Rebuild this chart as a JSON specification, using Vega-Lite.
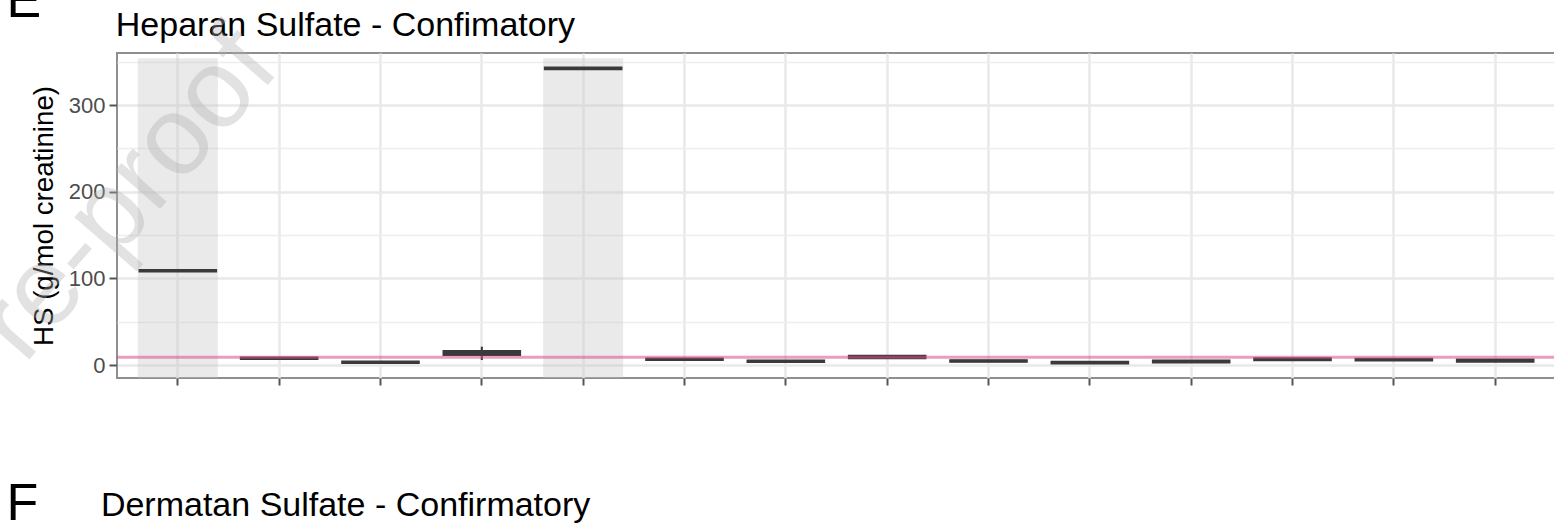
{
  "$schema": "https://vega.github.io/schema/vega-lite/v6.json",
  "width": 1439,
  "height": 325,
  "autosize": {"type": "none"},
  "padding": {"left": 117, "top": 53, "right": 0, "bottom": 148},
  "background": "white",
  "config": {
    "font": "Liberation Sans",
    "view": {"stroke": "#8f8f8f", "strokeWidth": 2},
    "axis": {"labelFont": "Liberation Sans", "titleFont": "Liberation Sans", "titleFontWeight": "normal", "titleColor": "black"}
  },
  "datasets": {
    "boxes": [
      {"cat": "1", "lower": 108.2, "q1": 108.2, "median": 108.8, "q3": 109.4, "upper": 109.4},
      {"cat": "2", "lower": 7.2, "q1": 7.2, "median": 7.7, "q3": 8.2, "upper": 8.2},
      {"cat": "3", "lower": 2.6, "q1": 2.6, "median": 3.1, "q3": 3.6, "upper": 3.6},
      {"cat": "4", "lower": 5.8, "q1": 11.8, "median": 13.5, "q3": 15.9, "upper": 21.1},
      {"cat": "5", "lower": 341.7, "q1": 341.7, "median": 342.3, "q3": 342.9, "upper": 342.9},
      {"cat": "6", "lower": 6.0, "q1": 6.0, "median": 6.6, "q3": 7.2, "upper": 7.2},
      {"cat": "7", "lower": 3.7, "q1": 3.7, "median": 4.3, "q3": 4.9, "upper": 4.9},
      {"cat": "8", "lower": 8.2, "q1": 8.2, "median": 9.2, "q3": 10.2, "upper": 10.2},
      {"cat": "9", "lower": 4.0, "q1": 4.0, "median": 4.6, "q3": 5.2, "upper": 5.2},
      {"cat": "10", "lower": 2.1, "q1": 2.1, "median": 2.7, "q3": 3.3, "upper": 3.3},
      {"cat": "11", "lower": 3.3, "q1": 3.3, "median": 4.0, "q3": 4.8, "upper": 4.8},
      {"cat": "12", "lower": 5.9, "q1": 5.9, "median": 6.6, "q3": 7.3, "upper": 7.3},
      {"cat": "13", "lower": 5.4, "q1": 5.4, "median": 6.1, "q3": 6.8, "upper": 6.8},
      {"cat": "14", "lower": 4.0, "q1": 4.0, "median": 5.0, "q3": 6.0, "upper": 6.0}
    ],
    "shade": [
      {"cat": "1", "lo": -15, "hi": 354},
      {"cat": "5", "lo": -15, "hi": 354}
    ],
    "reference": [{"threshold": 9}],
    "watermark": [{"label": "Journal Pre-proof"}]
  },
  "layer": [
    {
      "data": {"name": "shade"},
      "mark": {"type": "bar", "width": {"band": 0.79}, "fill": "#c4c4c4", "opacity": 0.36},
      "encoding": {
        "x": {
          "field": "cat", "type": "nominal",
          "scale": {"type": "band", "domain": ["1","2","3","4","5","6","7","8","9","10","11","12","13","14"], "paddingInner": 0, "paddingOuter": 0.1},
          "axis": {
            "orient": "bottom", "labels": false, "ticks": true, "tickSize": 7, "tickWidth": 2, "tickColor": "#555555",
            "domain": false, "grid": true, "gridColor": "#e9e9e9", "gridWidth": 2.5,
            "title": "Dermatan Sulfate - Confirmatory", "titleFontSize": 34, "titleX": -16.6, "titleY": 137,
            "titleAlign": "left", "titleBaseline": "alphabetic", "titleColor": "black"
          }
        },
        "y": {
          "field": "lo", "type": "quantitative",
          "scale": {"domain": [-15, 360], "nice": false, "zero": false},
          "axis": {
            "orient": "left", "values": [0, 100, 200, 300], "grid": true, "gridColor": "#e9e9e9", "gridWidth": 2.5,
            "domain": false, "ticks": true, "tickSize": 8, "tickWidth": 2, "tickColor": "#555555",
            "labelFontSize": 22, "labelColor": "#4d4d4d", "labelPadding": 4,
            "title": "HS (g/mol creatinine)", "titleFontSize": 27.7, "titleX": -64.5, "titleBaseline": "alphabetic",
            "titleAngle": -90, "titleColor": "black"
          }
        },
        "y2": {"field": "hi"}
      }
    },
    {
      "data": {"name": "boxes"},
      "mark": {"type": "rule", "stroke": "#333333", "strokeWidth": 2},
      "encoding": {
        "x": {
          "field": "cat", "type": "nominal",
          "scale": {"type": "band", "domain": ["1","2","3","4","5","6","7","8","9","10","11","12","13","14"], "paddingInner": 0, "paddingOuter": 0.1},
          "axis": {
            "orient": "top", "labels": false, "ticks": false, "domain": false, "grid": false,
            "title": "Heparan Sulfate - Confimatory", "titleFontSize": 34, "titleX": -1.7, "titleY": -17.5,
            "titleAlign": "left", "titleBaseline": "alphabetic", "titleColor": "black"
          }
        },
        "y": {"field": "lower", "type": "quantitative", "scale": {"domain": [-15, 360], "nice": false, "zero": false}, "axis": null},
        "y2": {"field": "upper"}
      }
    },
    {
      "data": {"name": "boxes"},
      "mark": {"type": "bar", "width": {"band": 0.75}, "fill": "white", "stroke": "#3a3a3a", "strokeWidth": 2.6},
      "encoding": {
        "x": {
          "field": "cat", "type": "nominal",
          "scale": {"type": "band", "domain": ["1","2","3","4","5","6","7","8","9","10","11","12","13","14"], "paddingInner": 0, "paddingOuter": 0.1},
          "axis": {
            "orient": "bottom", "labels": false, "ticks": false, "domain": false, "grid": false,
            "title": "F", "titleFontSize": 52, "titleX": -111, "titleY": 141,
            "titleAlign": "left", "titleBaseline": "alphabetic", "titleColor": "black"
          }
        },
        "y": {"field": "q1", "type": "quantitative", "scale": {"domain": [-15, 360], "nice": false, "zero": false}, "axis": null},
        "y2": {"field": "q3"}
      }
    },
    {
      "data": {"name": "boxes"},
      "mark": {"type": "tick", "color": "#3a3a3a", "thickness": 2.6, "size": 76, "opacity": 1},
      "encoding": {
        "x": {
          "field": "cat", "type": "nominal",
          "scale": {"type": "band", "domain": ["1","2","3","4","5","6","7","8","9","10","11","12","13","14"], "paddingInner": 0, "paddingOuter": 0.1},
          "axis": {
            "orient": "top", "labels": false, "ticks": false, "domain": false, "grid": false,
            "title": "E", "titleFontSize": 52, "titleX": -111, "titleY": -37,
            "titleAlign": "left", "titleBaseline": "alphabetic", "titleColor": "black"
          }
        },
        "y": {"field": "median", "type": "quantitative", "scale": {"domain": [-15, 360], "nice": false, "zero": false}, "axis": null}
      }
    },
    {
      "data": {"name": "reference"},
      "mark": {"type": "rule", "stroke": "#d94d8a", "opacity": 0.55, "strokeWidth": 3},
      "encoding": {
        "y": {
          "field": "threshold", "type": "quantitative",
          "scale": {"domain": [-15, 360], "nice": false, "zero": false},
          "axis": {
            "orient": "right", "values": [50, 150, 250, 350], "grid": true, "gridColor": "#ededed", "gridWidth": 1.6,
            "labels": false, "ticks": false, "domain": false, "title": null
          }
        }
      }
    },
    {
      "data": {"name": "watermark"},
      "mark": {"type": "text", "fontSize": 112, "angle": -49, "align": "right", "baseline": "alphabetic", "dx": 3.8, "fill": "#b0b0b0", "opacity": 0.36, "font": "Liberation Sans"},
      "encoding": {
        "x": {"datum": "2", "type": "nominal", "scale": {"type": "band", "domain": ["1","2","3","4","5","6","7","8","9","10","11","12","13","14"], "paddingInner": 0, "paddingOuter": 0.1}, "axis": null},
        "y": {"datum": 338.2, "type": "quantitative", "scale": {"domain": [-15, 360], "nice": false, "zero": false}, "axis": null},
        "text": {"field": "label"}
      }
    }
  ],
  "resolve": {"axis": {"x": "independent", "y": "independent"}}
}
